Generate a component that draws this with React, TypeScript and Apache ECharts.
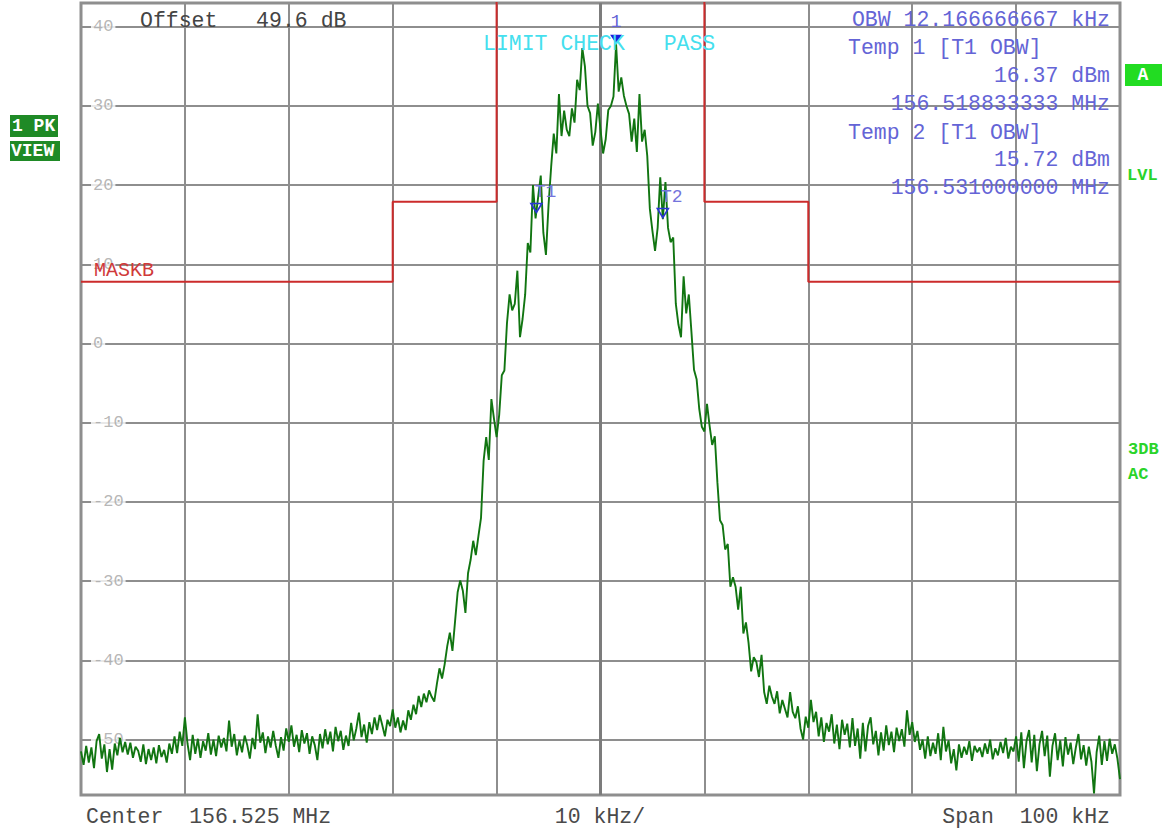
import React, { useEffect, useRef } from "react";
import * as echarts from "echarts";

// ---- sweep data (dBm), 0.25 kHz per sweep point, frequency relative to center 156.525 MHz ----
const SWEEP_STEP_KHZ = 0.25;

const noiseLowStartKHz = -50;
const noiseLow = [
  -51.5, -53.2, -50.8, -52.9, -51.0, -53.6, -50.2, -49.3, -52.4, -50.6,
  -54.1, -51.2, -53.8, -50.5, -52.0, -49.8, -51.6, -50.3, -51.9, -50.4,
  -52.3, -50.9, -51.4, -52.8, -50.6, -53.1, -51.2, -52.6, -51.0, -53.0,
  -50.7, -52.2, -51.3, -52.9, -50.5, -51.8, -49.6, -51.7, -49.0, -50.8,
  -47.2, -50.5, -52.6, -49.4, -51.8, -49.9, -52.3, -50.2, -51.4, -49.2,
  -51.9, -50.0, -52.1, -49.5, -51.0, -49.8, -51.5, -47.6, -50.9, -49.3,
  -52.0, -50.1, -51.6, -49.5, -50.7, -52.4, -49.8, -51.2, -46.8, -50.4,
  -49.1, -51.7, -49.6, -51.0, -48.9, -50.8, -52.3, -49.7, -51.4, -48.6,
  -50.3, -48.2, -50.9, -49.4, -51.6, -48.8, -50.5, -49.2, -51.8, -49.6,
  -50.7, -52.6, -49.3, -51.1, -48.7, -50.6, -49.0, -51.5, -48.4, -50.2,
  -48.9, -51.3, -49.5, -50.8, -47.9, -50.1, -48.6, -46.6, -49.7, -48.1,
  -50.4, -47.8, -49.3, -47.2, -48.8, -46.9, -48.2, -49.6, -47.5, -48.3,
  -46.2,
];

const skirtLowStartKHz = -19.75;
const skirtLow = [
  -48.5, -47.2, -49.1, -47.6, -48.8, -46.3, -47.5, -45.6, -46.8, -44.5,
  -45.9, -44.2, -45.3, -43.8, -44.6, -45.2, -43.0, -41.0, -42.3, -40.5,
  -38.2, -36.5, -38.8, -35.1, -31.4, -29.9, -31.2, -34.0, -29.0, -27.3,
  -24.9, -26.7, -24.3, -22.0, -14.8, -11.8, -14.7, -7.0, -9.5, -11.8,
  -9.0, -4.0, -3.4, 2.6, 6.2, 4.2, 5.0, 9.2, 0.8, 3.1,
  6.2, 12.7, 11.5, 20.0, 15.8, 18.5, 21.2, 14.0, 11.2, 17.5,
  22.3, 26.5, 24.0, 31.5, 26.2, 29.4, 27.0, 26.2, 29.7, 27.9,
  33.3, 32.0, 37.3, 35.0, 30.0, 29.1, 25.0, 26.7, 30.3, 27.0,
];

const skirtHighStartKHz = 0.25;
const skirtHigh = [
  24.0, 25.8, 29.5, 30.0, 31.2, 37.8, 31.8, 33.6, 31.3, 30.0,
  29.0, 25.5, 28.4, 24.2, 31.5, 25.5, 27.0, 23.7, 17.0, 14.2,
  11.7, 14.6, 21.0, 15.7, 20.4, 14.6, 12.8, 13.4, 5.0, 2.4,
  0.8, 8.5, 3.8, 6.2, 1.5, -3.3, -4.5, -8.2, -10.5, -11.1,
  -7.6, -10.4, -12.8, -11.7, -17.5, -22.3, -22.9, -26.0, -25.3, -30.7,
  -29.5, -30.7, -33.6, -30.7, -36.6, -35.2, -37.8, -41.4, -39.6, -40.2,
  -42.1, -39.3, -44.0, -45.5, -43.2, -44.6, -45.5, -43.9, -46.7, -45.0,
  -46.1, -47.2, -44.0, -46.5, -47.3, -45.8, -48.6, -50.0, -47.1, -48.5,
];

const noiseHighStartKHz = 20.25;
const noiseHigh = [
  -45.0, -47.8, -46.5, -49.6, -47.2, -50.3, -47.9, -49.0, -46.8, -50.5,
  -48.1, -51.2, -47.5, -49.4, -48.0, -51.0, -47.3, -50.8, -48.6, -52.4,
  -47.9, -51.5, -48.3, -47.2, -50.6, -48.9, -52.0, -49.1, -51.4, -48.2,
  -50.7, -49.0, -51.6, -48.5, -50.2, -48.7, -50.9, -46.3, -49.4, -47.8,
  -50.3, -48.9, -51.3, -50.0, -52.4, -49.6, -52.1, -50.4, -51.8, -49.2,
  -52.6, -48.4, -51.5, -50.1, -53.0, -51.2, -53.9, -50.6, -52.3, -50.9,
  -51.9, -50.2, -52.7, -50.8, -51.6, -51.0, -52.2, -50.5, -51.8, -50.0,
  -52.5, -51.1, -52.0, -50.3, -51.7, -49.8, -52.4, -50.9, -51.5, -49.6,
  -52.8, -49.1, -53.6, -50.2, -48.8, -52.9, -49.4, -54.0, -50.6, -48.9,
  -52.1, -49.5, -54.7, -50.8, -49.2, -52.6, -50.1, -53.4, -49.7, -51.9,
  -50.4, -53.1, -51.0, -49.3, -52.5, -50.7, -53.3, -50.9, -52.8, -56.8,
  -51.6, -49.5, -53.2, -50.2, -52.7, -49.9, -51.8, -50.6, -52.4, -55.0,
];

// ---- limit mask MASKB ----
const maskFreqKHz = [-50, -20, -10, 10, 20, 50];
const maskLevelDb = [7.8, 17.9, 60, 17.9, 7.8, 7.8];

// ---- axes ----
const yTickValues = [40, 30, 20, 10, 0, -10, -20, -30, -40, -50];
const xMinKHz = -50;
const xMaxKHz = 50;
const xStepKHz = 10;
const yMinDb = -57;
const yMaxDb = 43;

// ---- markers ----
const markerPeak = { name: "1", freq: 1.5, level: 37.8 };
const markerT1 = { name: "T1", freq: -6.166666667, level: 16.37 };
const markerT2 = { name: "T2", freq: 6.0, level: 15.72 };

// ---- texts ----
const offsetText = "Offset   49.6 dB";
const limitText = "LIMIT CHECK   PASS";
const readoutTitle = "OBW 12.166666667 kHz";
const readoutT1 = ["Temp 1 [T1 OBW]", "16.37 dBm", "156.518833333 MHz"];
const readoutT2 = ["Temp 2 [T1 OBW]", "15.72 dBm", "156.531000000 MHz"];
const footerCenter = "Center  156.525 MHz";
const footerDiv = "10 kHz/";
const footerSpan = "Span  100 kHz";

const MONO = '"Liberation Mono", "Courier New", monospace';

function buildTrace(): number[][] {
  const segs: [number, number[]][] = [
    [noiseLowStartKHz, noiseLow],
    [skirtLowStartKHz, skirtLow],
    [skirtHighStartKHz, skirtHigh],
    [noiseHighStartKHz, noiseHigh],
  ];
  const pts: number[][] = [];
  segs.forEach(([start, vals]) => {
    vals.forEach((v, i) => pts.push([start + i * SWEEP_STEP_KHZ, v]));
  });
  return pts;
}

function txt(text: string, x: number, y: number, opts: any = {}) {
  const align = opts.align || "left";
  return {
    type: "text",
    x,
    y,
    z: 100,
    silent: true,
    style: {
      text,
      fill: opts.fill || "#4a4a4a",
      fontFamily: MONO,
      fontSize: opts.fontSize || 21.5,
      fontWeight: opts.fontWeight || "normal",
      align,
      textAlign: align,
      verticalAlign: "middle",
      textVerticalAlign: "middle",
    },
  };
}

function box(x: number, y: number, w: number, h: number, fill: string) {
  return { type: "rect", z: 99, silent: true, shape: { x, y, width: w, height: h }, style: { fill } };
}

export default function App() {
  const ref = useRef<HTMLDivElement>(null);

  useEffect(() => {
    if (!ref.current) return;
    const chart = echarts.init(ref.current, undefined, { renderer: "svg" });
    const trace = buildTrace();
    const blue = "#6464d6";
    const green = "#2ad42a";
    const triDown = "path://M0,0 L10,0 L5,8 Z";

    const option: any = {
      animation: false,
      backgroundColor: "#ffffff",
      grid: {
        left: 81,
        right: 45,
        top: 3,
        bottom: 35,
        show: true,
        borderColor: "#8e8e8e",
        borderWidth: 3,
        backgroundColor: "transparent",
      },
      xAxis: {
        type: "value",
        min: xMinKHz,
        max: xMaxKHz,
        interval: xStepKHz,
        axisLine: { show: false },
        axisTick: { show: false },
        axisLabel: { show: false },
        splitLine: { show: true, lineStyle: { color: "#8e8e8e", width: 2 } },
      },
      yAxis: {
        type: "value",
        min: yMinDb,
        max: yMaxDb,
        axisLine: { show: false },
        axisTick: { show: false },
        axisLabel: { show: false },
        splitLine: { show: false },
      },
      series: [
        {
          type: "scatter",
          name: "levels",
          z: 2,
          silent: true,
          symbolSize: 0,
          data: yTickValues.map((v) => [xMinKHz, v]),
          label: {
            show: true,
            position: "right",
            distance: 10,
            formatter: (p: any) => String(p.value[1]),
            color: "#a4a4a4",
            fontFamily: MONO,
            fontSize: 17,
            backgroundColor: "#ffffff",
            padding: [0, 2],
          },
          markLine: {
            z: 1,
            silent: true,
            symbol: "none",
            label: { show: false },
            lineStyle: { color: "#8e8e8e", width: 2, type: "solid" },
            data: [
              ...yTickValues.map((v) => ({ yAxis: v })),
              { xAxis: 0, lineStyle: { color: "#7c7c7c", width: 3, type: "solid" } },
            ],
          },
        },
        {
          type: "line",
          name: "MASKB",
          z: 3,
          silent: true,
          step: "end",
          symbol: "none",
          showSymbol: false,
          data: maskFreqKHz.map((f, i) => [f, maskLevelDb[i]]),
          lineStyle: { color: "#cc2b2b", width: 2 },
        },
        {
          type: "line",
          name: "1 PK",
          z: 4,
          silent: true,
          symbol: "none",
          showSymbol: false,
          data: trace,
          lineStyle: { color: "#117511", width: 1.9 },
          markPoint: {
            z: 6,
            silent: true,
            data: [
              {
                coord: [markerPeak.freq, markerPeak.level],
                symbol: triDown,
                symbolSize: [12, 9],
                symbolOffset: [0, -5],
                itemStyle: { color: "#1c1cdc" },
                label: {
                  show: true,
                  formatter: markerPeak.name,
                  position: "top",
                  distance: 4,
                  color: blue,
                  fontFamily: MONO,
                  fontSize: 18,
                },
              },
              ...[markerT1, markerT2].map((m) => ({
                coord: [m.freq, m.level],
                symbol: triDown,
                symbolSize: [11, 9],
                symbolOffset: [0, -6],
                itemStyle: { color: "rgba(0,0,0,0)", borderColor: "#2a36d4", borderWidth: 1.6 },
                label: {
                  show: true,
                  formatter: m.name,
                  position: "top",
                  distance: 2,
                  offset: [9, 0],
                  color: "#7474dc",
                  fontFamily: MONO,
                  fontSize: 18,
                },
              })),
            ],
          },
        },
      ],
      graphic: {
        elements: [
          txt(offsetText, 140, 21, { fill: "#444444" }),
          txt(limitText, 483, 44, { fill: "#45dfee" }),
          txt(readoutTitle, 1110, 20, { align: "right", fill: blue }),
          txt(readoutT1[0], 848, 48, { fill: blue }),
          txt(readoutT1[1], 1110, 76, { align: "right", fill: blue }),
          txt(readoutT1[2], 1110, 104, { align: "right", fill: blue }),
          txt(readoutT2[0], 848, 133, { fill: blue }),
          txt(readoutT2[1], 1110, 160, { align: "right", fill: blue }),
          txt(readoutT2[2], 1110, 188, { align: "right", fill: blue }),
          txt("MASKB", 94, 270, { fill: "#d03a3a", fontSize: 20 }),
          box(10, 115, 48, 22, "#1f8a26"),
          txt("1 PK", 12, 126, { fill: "#ffffff", fontWeight: "bold", fontSize: 18 }),
          box(10, 141, 50, 20, "#1f8a26"),
          txt("VIEW", 11, 151, { fill: "#ffffff", fontWeight: "bold", fontSize: 18 }),
          box(1125, 64, 37, 22, "#22dc22"),
          txt("A", 1143, 75, { align: "center", fill: "#ffffff", fontWeight: "bold", fontSize: 18 }),
          txt("LVL", 1127, 175, { fill: green, fontWeight: "bold", fontSize: 17 }),
          txt("3DB", 1128, 449, { fill: green, fontWeight: "bold", fontSize: 17 }),
          txt("AC", 1128, 474, { fill: green, fontWeight: "bold", fontSize: 17 }),
          txt(footerCenter, 86, 817, { fill: "#4a4a4a" }),
          txt(footerDiv, 600, 817, { align: "center", fill: "#4a4a4a" }),
          txt(footerSpan, 1110, 817, { align: "right", fill: "#4a4a4a" }),
        ],
      },
    };
    chart.setOption(option);
    return () => chart.dispose();
  }, []);

  return (
    <div
      ref={ref}
      style={{ position: "fixed", left: 0, top: 0, width: 1165, height: 830, background: "#fff" }}
    />
  );
}
